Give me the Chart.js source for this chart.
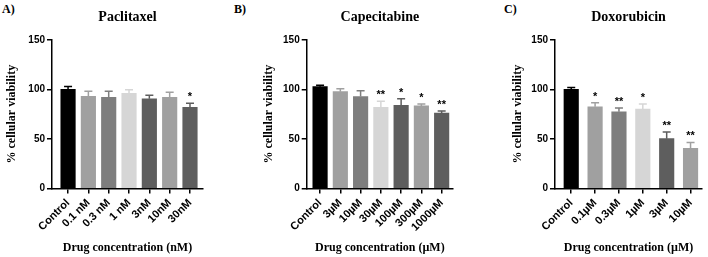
<!DOCTYPE html>
<html>
<head>
<meta charset="utf-8">
<script src="https://cdn.jsdelivr.net/npm/chart.js@4.4.1/dist/chart.umd.min.js"></script>
<style>
    body { margin: 0; background: #fff; }
    #page { position: relative; width: 708px; height: 257px; overflow: hidden; background: #fff; }
    .panel { position: absolute; top: 0; width: 236px; height: 257px; }
    .tag { position: absolute; top: 3px; font: bold 12px/12px "Liberation Serif", "Times New Roman", serif; color: #000; }
</style>
</head>
<body>
<div id="page">
    <div class="tag" style="left: 2px;">A)</div>
    <div class="tag" style="left: 234px;">B)</div>
    <div class="tag" style="left: 504px;">C)</div>
    <div class="panel" style="left: 0px;"><canvas id="chartA"></canvas></div>
    <div class="panel" style="left: 236px;"><canvas id="chartB"></canvas></div>
    <div class="panel" style="left: 472px;"><canvas id="chartC"></canvas></div>
</div>
<script>
// values
const yTicks = [0, 50, 100, 150];
const yTitle = '% cellular viability';

const paclitaxelName = 'Paclitaxel';
const paclitaxelAxis = 'Drug concentration (nM)';
const paclitaxelDoses = ['Control', '0.1 nM', '0.3 nM', '1 nM', '3nM', '10nM', '30nM'];
const paclitaxelMeans = [100, 93, 92, 96, 90.5, 92, 82];
const paclitaxelErrors = [3, 5, 6, 3.5, 3.5, 5, 4];
const paclitaxelStars = ['', '', '', '', '', '', '*'];

const capecitabineName = 'Capecitabine';
const capecitabineAxis = 'Drug concentration (\u00b5M)';
const capecitabineDoses = ['Control', '3\u00b5M', '10\u00b5M', '30\u00b5M', '100\u00b5M', '300\u00b5M', '1000\u00b5M'];
const capecitabineMeans = [102.7, 97.7, 92.7, 82, 84, 83.3, 76];
const capecitabineErrors = [1.5, 3, 6, 6, 6.5, 2, 2.3];
const capecitabineStars = ['', '', '', '**', '*', '*', '**'];

const doxorubicinName = 'Doxorubicin';
const doxorubicinAxis = 'Drug concentration (\u00b5M)';
const doxorubicinDoses = ['Control', '0.1\u00b5M', '0.3\u00b5M', '1\u00b5M', '3\u00b5M', '10\u00b5M'];
const doxorubicinMeans = [100, 82.5, 77.3, 80, 50.3, 40.5];
const doxorubicinErrors = [2, 4, 4, 5.3, 6.7, 6];
const doxorubicinStars = ['', '*', '**', '*', '**', '**'];

// bar shades, same order in every panel
const barShades = ['#000000', '#a0a0a0', '#7e7e7e', '#d6d6d6', '#5e5e5e', '#a0a0a0', '#5e5e5e'];

const serifBold = 'Liberation Serif, Times New Roman, serif';
const sansBold = 'Liberation Sans, Arial, Helvetica, sans-serif';

function errorBarPlugin(errors, stars, colors) {
    return {
        id: 'errorBars',
        afterDatasetsDraw(chart) {
            const ctx = chart.ctx;
            const x = chart.scales.x;
            const y = chart.scales.y;
            const points = chart.data.datasets[0].data;
            ctx.save();
            ctx.lineWidth = 1.5;
            points.forEach((pt, i) => {
                const px = x.getPixelForValue(pt.x);
                const base = y.getPixelForValue(pt.y);
                const top = y.getPixelForValue(pt.y + errors[i]);
                ctx.strokeStyle = colors[i];
                ctx.beginPath();
                ctx.moveTo(px, base);
                ctx.lineTo(px, top);
                ctx.moveTo(px - 4, top);
                ctx.lineTo(px + 4, top);
                ctx.stroke();
                if (stars[i]) {
                    ctx.fillStyle = '#000';
                    ctx.font = 'bold 11px ' + sansBold;
                    ctx.textAlign = 'center';
                    ctx.textBaseline = 'alphabetic';
                    ctx.fillText(stars[i], px, top - 3);
                }
            });
            ctx.restore();
        }
    };
}

function makePanel(canvasId, name, axisText, doses, means, errors, stars, layout) {
    const colors = barShades.slice(0, doses.length);
    const ctx = document.getElementById(canvasId).getContext('2d');
    return new Chart(ctx, {
        type: 'bar',
        data: {
            datasets: [{
                data: means.map((v, i) => ({ x: i, y: v })),
                backgroundColor: colors,
                borderWidth: 0,
                barThickness: 14.5
            }]
        },
        plugins: [errorBarPlugin(errors, stars, colors)],
        options: {
            responsive: true,
            maintainAspectRatio: false,
            animation: false,
            layout: { padding: { left: 0, right: layout.right, top: 0, bottom: 0 } },
            plugins: {
                legend: { display: false },
                tooltip: { enabled: false },
                title: {
                    display: true,
                    text: name,
                    fullSize: false,
                    color: '#000',
                    font: { family: serifBold, size: 14, weight: 'bold' },
                    padding: { top: 9, bottom: 14 }
                }
            },
            scales: {
                x: {
                    type: 'linear',
                    min: layout.xMin,
                    max: layout.xMax,
                    offset: false,
                    afterBuildTicks: scale => { scale.ticks = doses.map((d, i) => ({ value: i })); },
                    ticks: {
                        callback: v => doses[v],
                        autoSkip: false,
                        minRotation: 45,
                        maxRotation: 45,
                        padding: 3,
                        color: '#000',
                        font: { family: sansBold, size: 11, weight: 'bold' }
                    },
                    grid: { offset: false, drawOnChartArea: false, tickLength: 5, color: '#000', lineWidth: 1.5 },
                    border: { display: true, color: '#000', width: 1.5 },
                    title: {
                        display: true,
                        text: axisText,
                        color: '#000',
                        font: { family: serifBold, size: 12, weight: 'bold' },
                        padding: { top: 0, bottom: 1.5 }
                    },
                    afterFit: scale => { scale.height = 68.5; }
                },
                y: {
                    min: 0,
                    max: 150,
                    afterBuildTicks: scale => { scale.ticks = yTicks.map(v => ({ value: v })); },
                    ticks: {
                        padding: 2,
                        color: '#000',
                        font: { family: sansBold, size: 10, weight: 'bold' }
                    },
                    grid: { drawOnChartArea: false, tickLength: 5, color: '#000', lineWidth: 1.5 },
                    border: { display: true, color: '#000', width: 1.5 },
                    title: {
                        display: true,
                        text: yTitle,
                        color: '#000',
                        font: { family: serifBold, size: 12, weight: 'bold' },
                        padding: { top: layout.yTitlePad, bottom: 0 }
                    },
                    afterFit: scale => { scale.width = layout.yWidth; }
                }
            }
        }
    });
}

document.addEventListener('DOMContentLoaded', function () {
    makePanel('chartA', paclitaxelName, paclitaxelAxis, paclitaxelDoses, paclitaxelMeans, paclitaxelErrors, paclitaxelStars,
        { yWidth: 52, right: 33, xMin: -0.79, xMax: 6.64, yTitlePad: 5 });
    makePanel('chartB', capecitabineName, capecitabineAxis, capecitabineDoses, capecitabineMeans, capecitabineErrors, capecitabineStars,
        { yWidth: 70.7, right: 19, xMin: -0.66, xMax: 6.56, yTitlePad: 26 });
    makePanel('chartC', doxorubicinName, doxorubicinAxis, doxorubicinDoses, doxorubicinMeans, doxorubicinErrors, doxorubicinStars,
        { yWidth: 83, right: 6, xMin: -0.68, xMax: 5.48, yTitlePad: 39 });
});
</script>
</body>
</html>
